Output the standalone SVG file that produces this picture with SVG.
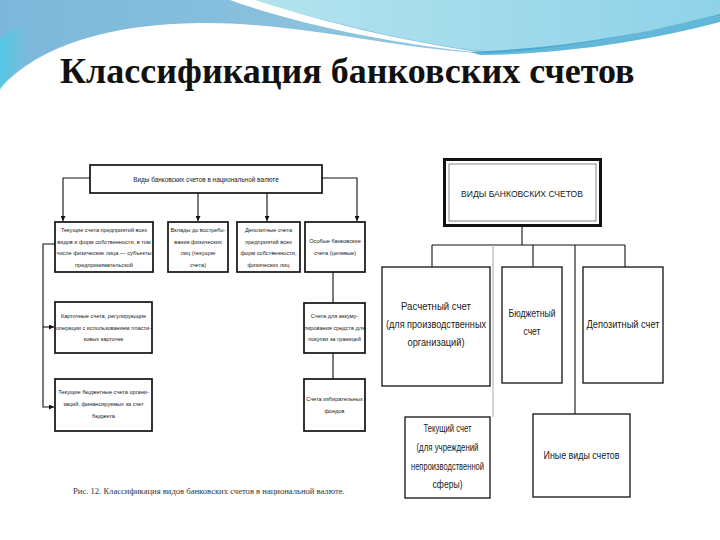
<svg xmlns="http://www.w3.org/2000/svg" width="720" height="540" viewBox="0 0 720 540">
<defs>
<linearGradient id="gBlue" x1="0" y1="0" x2="1" y2="0">
<stop offset="0" stop-color="#7cb8da"/>
<stop offset="0.5" stop-color="#8cc3df"/>
<stop offset="1" stop-color="#9dd2e6"/>
</linearGradient>
<linearGradient id="gCyan" x1="0" y1="0" x2="1" y2="0">
<stop offset="0" stop-color="#b4e4ee"/>
<stop offset="1" stop-color="#8fd2e8"/>
</linearGradient>
<linearGradient id="gTail" x1="0" y1="0" x2="1" y2="0">
<stop offset="0" stop-color="#45d0ea"/>
<stop offset="1" stop-color="#45d0ea" stop-opacity="0"/>
</linearGradient>
<marker id="ar" viewBox="0 0 8 8" refX="8" refY="4" markerWidth="5" markerHeight="5" orient="auto" markerUnits="userSpaceOnUse">
<path d="M0,0 L8,4 L0,8 Z" fill="#111"/>
</marker>
<style>
.bx{fill:#fff;stroke:#111;stroke-width:1.7}
.rb{fill:#fff;stroke:#222;stroke-width:1.4}
.ln{fill:none;stroke:#111;stroke-width:1.1}
.lg{fill:none;stroke:#aaa;stroke-width:1}
.ts{font-family:"Liberation Sans",Arial,sans-serif;font-size:5.6px;fill:#1a1a1a;text-anchor:middle}
.tt{font-family:"Liberation Sans",Arial,sans-serif;font-size:6.4px;fill:#1a1a1a;text-anchor:middle}
.tr{font-family:"Liberation Sans",Arial,sans-serif;font-size:10px;fill:#1a1a1a;text-anchor:middle}
</style>
</defs>
<rect width="720" height="540" fill="#fff"/>
<g id="background">
<path d="M0,0 H720 V15 C650,30 570,50 485,53 C400,50 300,22 200,23 C110,24 40,45 0,88 Z" fill="url(#gBlue)"/>
<path d="M0,40 C10,30 20,26 30,24 L30,60 C18,68 8,78 0,90 Z" fill="url(#gTail)" opacity="0.7"/>
<path d="M245,0 H720 V15 C650,30 570,48 485,51 C410,44 320,18 245,0 Z" fill="url(#gCyan)"/>
<path d="M230,0 C290,22 390,44 485,53 C390,40 300,15 255,0 Z" fill="#fff"/>
<path d="M470,52 C570,48 650,32 720,14 L720,22 C650,40 570,54 480,55 Z" fill="#2f9fcc" opacity="0.75"/>
</g>
<text x="60" y="83" font-family="'Liberation Serif','Times New Roman',serif" font-weight="bold" font-size="36" fill="#111">Классификация банковских счетов</text>
<g id="connectors">
<polyline class="ln" points="90,178 63,178 63,221" marker-end="url(#ar)"/>
<line class="ln" x1="198" y1="193" x2="198" y2="221" marker-end="url(#ar)"/>
<line class="ln" x1="267" y1="193" x2="267" y2="221" marker-end="url(#ar)"/>
<polyline class="ln" points="322,178 357,178 357,221" marker-end="url(#ar)"/>
<polyline class="ln" points="55,244 43,244 43,407 54,407" marker-end="url(#ar)"/>
<line class="ln" x1="43" y1="327" x2="54" y2="327" marker-end="url(#ar)"/>
<line class="ln" x1="333" y1="272" x2="333" y2="303"/>
<line class="ln" x1="333" y1="353" x2="333" y2="379"/>
<line class="ln" x1="522" y1="227" x2="522" y2="245"/>
<line class="ln" x1="432" y1="245" x2="625" y2="245"/>
<line class="ln" x1="432" y1="245" x2="432" y2="267"/>
<line class="ln" x1="533" y1="245" x2="533" y2="267"/>
<line class="ln" x1="625" y1="245" x2="625" y2="267"/>
<line class="ln" x1="575" y1="245" x2="575" y2="414"/>
<line class="lg" x1="493" y1="245" x2="493" y2="417"/>
</g>
<g id="n-top-left">
<rect class="bx" x="90" y="165" width="232" height="28"/>
<text class="tt" x="206" y="181.5">Виды банковских счетов в национальной валюте</text>
</g>
<g id="n-tekushchie">
<rect class="bx" x="55" y="222" width="98" height="50"/>
<text class="ts" x="104" y="232">Текущие счета предприятий всех</text>
<text class="ts" x="104" y="243.5">видов и форм собственности, в том</text>
<text class="ts" x="104" y="255">числе физические лица — субъекты</text>
<text class="ts" x="104" y="266.5">предпринимательской</text>
</g>
<g id="n-vklady">
<rect class="bx" x="168" y="222" width="60" height="50"/>
<text class="ts" x="198" y="232">Вклады до востребо-</text>
<text class="ts" x="198" y="243.5">вания физических</text>
<text class="ts" x="198" y="255">лиц (текущие</text>
<text class="ts" x="198" y="266.5">счета)</text>
</g>
<g id="n-depozitnye">
<rect class="bx" x="237" y="222" width="63" height="50"/>
<text class="ts" x="268.5" y="232">Депозитные счета</text>
<text class="ts" x="268.5" y="243.5">предприятий всех</text>
<text class="ts" x="268.5" y="255">форм собственности,</text>
<text class="ts" x="268.5" y="266.5">физических лиц</text>
</g>
<g id="n-osobye">
<rect class="bx" x="305" y="222" width="60" height="50"/>
<text class="ts" x="335" y="243">Особые банковские</text>
<text class="ts" x="335" y="255">счета (целевые)</text>
</g>
<g id="n-kartochnye">
<rect class="bx" x="55" y="302" width="97" height="51"/>
<text class="ts" x="103.5" y="318">Карточные счета, регулирующие</text>
<text class="ts" x="103.5" y="329.5">операции с использованием пласти-</text>
<text class="ts" x="103.5" y="341">ковых карточек</text>
</g>
<g id="n-byudzhetnye">
<rect class="bx" x="55" y="379" width="97" height="52"/>
<text class="ts" x="103.5" y="394">Текущие бюджетные счета органи-</text>
<text class="ts" x="103.5" y="406">заций, финансируемых за счет</text>
<text class="ts" x="103.5" y="418">бюджета</text>
</g>
<g id="n-akkumul">
<rect class="bx" x="304" y="303" width="61" height="50"/>
<text class="ts" x="334.5" y="318">Счета для аккуму-</text>
<text class="ts" x="334.5" y="329.5">лирования средств для</text>
<text class="ts" x="334.5" y="341">покупки за границей</text>
</g>
<g id="n-izbirat">
<rect class="bx" x="304" y="379" width="61" height="52"/>
<text class="ts" x="334.5" y="401">Счета избирательных</text>
<text class="ts" x="334.5" y="413">фондов</text>
</g>
<text x="73" y="494" font-family="'Liberation Serif','Times New Roman',serif" font-size="8.6" fill="#333">Рис. 12. Классификация видов банковских счетов в национальной валюте.</text>
<g id="n-top-right">
<rect x="444.5" y="159.5" width="156" height="66" fill="#fff" stroke="#111" stroke-width="3"/>
<rect x="449" y="164" width="147" height="57" fill="none" stroke="#666" stroke-width="0.8"/>
<text x="522" y="197" font-family="'Liberation Sans',Arial,sans-serif" font-size="9.5" fill="#1a1a1a" text-anchor="middle" textLength="122" lengthAdjust="spacingAndGlyphs">ВИДЫ БАНКОВСКИХ СЧЕТОВ</text>
</g>
<g id="n-raschetny">
<rect class="rb" x="382" y="267" width="108" height="119"/>
<text class="tr" x="436" y="310" textLength="70" lengthAdjust="spacingAndGlyphs">Расчетный счет</text>
<text class="tr" x="436" y="328" textLength="100" lengthAdjust="spacingAndGlyphs">(для производственных</text>
<text class="tr" x="436" y="346" textLength="57" lengthAdjust="spacingAndGlyphs">организаций)</text>
</g>
<g id="n-byudzhetny">
<rect class="rb" x="502" y="267" width="60" height="116"/>
<text class="tr" x="532" y="317" textLength="47" lengthAdjust="spacingAndGlyphs">Бюджетный</text>
<text class="tr" x="532" y="335" textLength="17" lengthAdjust="spacingAndGlyphs">счет</text>
</g>
<g id="n-depozitny">
<rect class="rb" x="583" y="267" width="80" height="116"/>
<text class="tr" x="623" y="328" textLength="73" lengthAdjust="spacingAndGlyphs">Депозитный счет</text>
</g>
<g id="n-tekushchy">
<rect class="rb" x="405" y="417" width="85" height="81"/>
<text class="tr" x="447.5" y="432" textLength="48" lengthAdjust="spacingAndGlyphs">Текущий счет</text>
<text class="tr" x="447.5" y="451" textLength="62" lengthAdjust="spacingAndGlyphs">(для учреждений</text>
<text class="tr" x="447.5" y="470" textLength="73" lengthAdjust="spacingAndGlyphs">непроизводственной</text>
<text class="tr" x="447.5" y="488" textLength="30" lengthAdjust="spacingAndGlyphs">сферы)</text>
</g>
<g id="n-inye">
<rect class="rb" x="533" y="414" width="97" height="83"/>
<text class="tr" x="581.5" y="459" textLength="76" lengthAdjust="spacingAndGlyphs">Иные виды счетов</text>
</g>
</svg>
